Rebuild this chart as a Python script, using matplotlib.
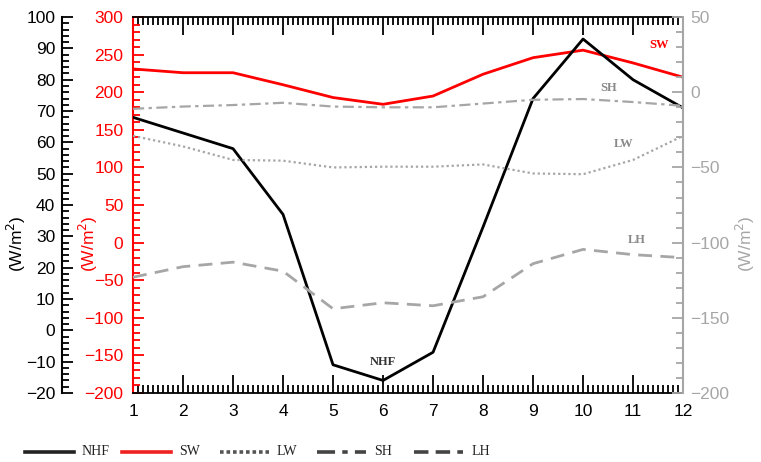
import matplotlib
matplotlib.use('Agg')
import matplotlib.pyplot as plt
from matplotlib.ticker import MultipleLocator
from matplotlib.lines import Line2D

months = list(range(1, 13))
nhf = [68, 63, 58, 37, -11, -16, -7, 33, 74, 93, 80, 71]
sw = [231, 226, 226, 210, 193, 184, 195, 224, 246, 256, 239, 220]
lw = [-29, -36, -45, -45.5, -50, -49.5, -49.5, -48, -54, -54.5, -45, -29]
sh = [-11, -9.5, -8.5, -7, -9.5, -10, -10, -7.5, -5, -4.5, -6.5, -9]
lh = [-123, -116, -113, -119, -144, -140, -142, -136, -114, -104.5, -108, -110]

GRAY = '#a6a6a6'
RED = '#ff0000'
FS = 12.5
plt.rcParams['font.family'] = ['Liberation Sans', 'DejaVu Sans']

fig = plt.figure(figsize=(7.61, 4.62), dpi=100)
ax = fig.add_axes([0.1748, 0.1494, 0.7228, 0.8136])

# red axis (SW) on the main axes
ax.plot(months, sw, color=RED, lw=2)
ax.set_xlim(1, 12)
ax.set_ylim(-200, 300)
ax.xaxis.set_major_locator(MultipleLocator(1))
ax.xaxis.set_minor_locator(MultipleLocator(0.1))
ax.yaxis.set_major_locator(MultipleLocator(50))
ax.yaxis.set_minor_locator(MultipleLocator(10))
ax.tick_params(axis='x', which='both', top=True, direction='in', width=1.3, colors='black')
ax.tick_params(axis='x', which='major', length=13, labelsize=FS, pad=8)
ax.tick_params(axis='x', which='minor', length=5.5)
ax.tick_params(axis='y', which='both', direction='in', colors=RED, width=1.3)
ax.tick_params(axis='y', which='major', length=8, labelsize=FS, pad=7)
ax.tick_params(axis='y', which='minor', length=5)
ax.spines['left'].set_color(RED)
ax.spines['left'].set_linewidth(1.5)
ax.spines['right'].set_visible(False)
for s in ['top', 'bottom']:
    ax.spines[s].set_linewidth(1.3)

# black axis (NHF) offset to the left (71 px = 51 pt)
ax_n = ax.twinx()
ax_n.plot(months, nhf, color='black', lw=2)
ax_n.set_ylim(-20, 100)
ax_n.yaxis.set_ticks_position('left')
ax_n.yaxis.set_label_position('left')
ax_n.spines['left'].set_position(('outward', 51))
ax_n.spines['left'].set_visible(True)
ax_n.spines['left'].set_linewidth(1.5)
for s in ['right', 'top', 'bottom']:
    ax_n.spines[s].set_visible(False)
ax_n.yaxis.set_major_locator(MultipleLocator(10))
ax_n.yaxis.set_minor_locator(MultipleLocator(2))
ax_n.tick_params(axis='y', which='both', direction='in', width=1.3)
ax_n.tick_params(axis='y', which='major', length=8, labelsize=FS, pad=5)
ax_n.tick_params(axis='y', which='minor', length=5)

# gray axis (LW, SH, LH) on the right
ax_g = ax.twinx()
ax_g.plot(months, lw, color=GRAY, lw=1.6, ls=(0, (1, 1.3)))
ax_g.plot(months, sh, color=GRAY, lw=1.6, ls=(0, (5, 2, 1.5, 2)))
ax_g.plot(months, lh, color=GRAY, lw=2, ls=(0, (5, 3)))
ax_g.set_ylim(-200, 50)
for s in ['left', 'top', 'bottom']:
    ax_g.spines[s].set_visible(False)
ax_g.spines['right'].set_color(GRAY)
ax_g.spines['right'].set_linewidth(1.5)
ax_g.yaxis.set_major_locator(MultipleLocator(50))
ax_g.yaxis.set_minor_locator(MultipleLocator(10))
ax_g.tick_params(axis='y', which='both', direction='in', colors=GRAY, width=1.3)
ax_g.tick_params(axis='y', which='major', length=8, labelsize=FS, pad=5)
ax_g.tick_params(axis='y', which='minor', length=5)

# curve names inside the plot
serif = ['Liberation Serif', 'DejaVu Serif']
ax.text(0.956, 0.926, 'SW', transform=ax.transAxes, color=RED, family=serif,
        weight='bold', fontsize=9, ha='center', va='center')
ax.text(0.865, 0.811, 'SH', transform=ax.transAxes, color='#888888', family=serif,
        weight='bold', fontsize=9, ha='center', va='center')
ax.text(0.891, 0.662, 'LW', transform=ax.transAxes, color='#888888', family=serif,
        weight='bold', fontsize=9, ha='center', va='center')
ax.text(0.915, 0.407, 'LH', transform=ax.transAxes, color='#888888', family=serif,
        weight='bold', fontsize=9, ha='center', va='center')
ax.text(0.4545, 0.082, 'NHF', transform=ax.transAxes, color='#333333', family=serif,
        weight='bold', fontsize=9, ha='center', va='center')

# axis titles
fig.text(0.022, 0.472, '(W/m$^2$)', rotation=90, color='black', fontsize=FS,
         ha='center', va='center')
fig.text(0.116, 0.472, '(W/m$^2$)', rotation=90, color=RED, fontsize=FS,
         ha='center', va='center')
fig.text(0.979, 0.472, '(W/m$^2$)', rotation=90, color=GRAY, fontsize=FS,
         ha='center', va='center')

# legend row at the bottom
names = ['NHF', 'SW', 'LW', 'SH', 'LH']
styles = [('#222222', '-'), ('#ee2020', '-'), ('#555555', (0, (1, 0.8))),
          ('#444444', (0, (5, 2, 1.5, 2))), ('#444444', (0, (4, 2)))]
W, H = 761, 462
for i, (name, (c, ls)) in enumerate(zip(names, styles)):
    x0 = 25 + 97.3 * i
    fig.add_artist(Line2D([x0 / W, (x0 + 49) / W], [0.022, 0.022], color=c,
                          ls=ls, lw=2.6, transform=fig.transFigure))
    fig.text((x0 + 57) / W, 0.022, name, family=serif, fontsize=10,
             color='#222222', ha='left', va='center')

fig.savefig('out.png', dpi=100)
